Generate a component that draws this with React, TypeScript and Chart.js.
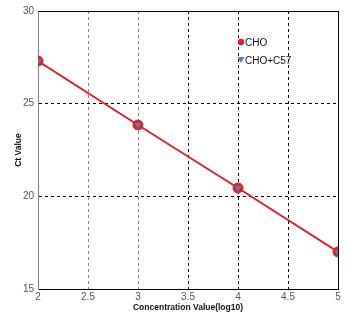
import React, { useEffect, useRef } from "react";
import { Chart, registerables } from "chart.js";

Chart.register(...registerables);

const concentrations = [2, 3, 4, 5];
const ctCHO = [27.3, 23.85, 20.45, 17.0];
const ctCHOC57 = [27.3, 23.85, 20.45, 17.0];
const seriesLabels = ["CHO", "CHO+C57"];
const xTicks = [2, 2.5, 3, 3.5, 4, 4.5, 5];
const yTicks = [15, 20, 25, 30];
const xTitle = "Concentration Value(log10)";
const yTitle = "Ct Value";

const legendPlugin = {
  id: "insideLegend",
  afterDraw(chart: any) {
    const ctx = chart.ctx;
    const { chartArea } = chart;
    ctx.save();
    ctx.strokeStyle = "#000";
    ctx.lineWidth = 1;
    ctx.beginPath();
    ctx.moveTo(chartArea.left, chartArea.top + 0.5);
    ctx.lineTo(chartArea.right + 0.5, chartArea.top + 0.5);
    ctx.lineTo(chartArea.right + 0.5, chartArea.bottom);
    ctx.stroke();
    const x0 = 241;
    const ys = [42, 60];
    ctx.font = "10px 'Liberation Sans', Arial, sans-serif";
    ctx.textBaseline = "middle";
    ctx.textAlign = "left";
    chart.data.datasets.forEach((ds: any, i: number) => {
      const y = ys[i];
      ctx.fillStyle = ds.pointBackgroundColor;
      ctx.beginPath();
      if (ds.pointStyle === "triangle") {
        ctx.moveTo(x0 - 3.5, y - 3);
        ctx.lineTo(x0 + 3.5, y - 3);
        ctx.lineTo(x0, y + 3);
        ctx.closePath();
      } else {
        ctx.arc(x0, y, 3.2, 0, Math.PI * 2);
      }
      ctx.fill();
      ctx.fillStyle = "#111";
      ctx.fillText(ds.label, x0 + 4, y + 1);
    });
    ctx.restore();
  },
};

export default function App() {
  const ref = useRef<HTMLCanvasElement>(null);
  useEffect(() => {
    if (!ref.current) return;
    const chart = new Chart(ref.current, {
      type: "line",
      data: {
        datasets: [
          {
            label: seriesLabels[0],
            data: concentrations.map((x, i) => ({ x, y: ctCHO[i] })),
            order: 1,
            borderColor: "#e01f26",
            backgroundColor: "#e01f26",
            borderWidth: 2,
            pointStyle: "circle",
            pointRadius: 5,
            pointBackgroundColor: "#e01f26",
            pointBorderColor: "#e01f26",
            pointBorderWidth: 1,
          },
          {
            label: seriesLabels[1],
            data: concentrations.map((x, i) => ({ x, y: ctCHOC57[i] })),
            order: 0,
            showLine: false,
            borderColor: "#5b7fae",
            backgroundColor: "#5b7fae",
            pointStyle: "triangle",
            pointRadius: 4,
            rotation: 180,
            pointBackgroundColor: "#5b7fae",
            pointBorderColor: "#5b7fae",
            pointBorderWidth: 0,
          } as any,
        ],
      },
      plugins: [legendPlugin],
      options: {
        animation: false,
        responsive: false,
        devicePixelRatio: 1,
        layout: { padding: { top: 11, right: 17, left: 0, bottom: 0 } },
        plugins: { legend: { display: false }, tooltip: { enabled: false } },
        scales: {
          x: {
            type: "linear",
            min: 2,
            max: 5,
            afterBuildTicks: (s: any) => {
              s.ticks = xTicks.map((v) => ({ value: v }));
            },
            afterFit: (s: any) => {
              s.height = 41;
            },
            ticks: {
              padding: 2,
              color: "#555",
              font: { family: "'Liberation Sans', Arial, sans-serif", size: 10 },
              callback: (v: any) => String(v),
            },
            grid: {
              drawTicks: false,
              color: (c: any) => (c.tick && (c.tick.value === 2.5 || c.tick.value === 3) ? "#888" : "#000"),
            },
            border: { color: "#000", width: 1, dash: [3, 3] } as any,
            title: {
              display: true,
              text: xTitle,
              color: "#111",
              font: { family: "'Liberation Sans', Arial, sans-serif", size: 8.5, weight: "bold" },
              padding: { top: 0, bottom: 17 },
            },
          },
          y: {
            min: 15,
            max: 30,
            afterBuildTicks: (s: any) => {
              s.ticks = yTicks.map((v) => ({ value: v }));
            },
            afterFit: (s: any) => {
              s.width = 38;
            },
            ticks: {
              padding: 4,
              color: "#555",
              font: { family: "'Liberation Sans', Arial, sans-serif", size: 10 },
            },
            grid: {
              drawTicks: false,
              color: "#000",
            },
            border: { color: "#808080", width: 1, dash: [3, 3] } as any,
            title: {
              display: true,
              text: yTitle,
              color: "#111",
              font: { family: "'Liberation Sans', Arial, sans-serif", size: 8.5, weight: "bold" },
              padding: { top: 14, bottom: 0 },
            },
          },
        },
      } as any,
    });
    return () => chart.destroy();
  }, []);
  return (
    <div style={{ position: "fixed", left: 0, top: 0, width: 355, height: 330, background: "#fff" }}>
      <canvas ref={ref} width={355} height={330} style={{ width: 355, height: 330 }} />
    </div>
  );
}
